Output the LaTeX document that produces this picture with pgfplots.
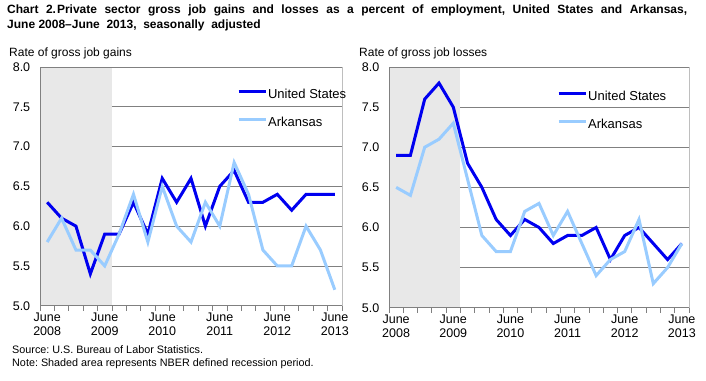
\documentclass[border=0pt]{standalone}
\usepackage{pgfplots}
\pgfplotsset{compat=1.18}
\usepackage{fontspec}
\setmainfont{Liberation Sans}
\definecolor{usblue}{RGB}{0,0,240}
\definecolor{arblue}{RGB}{153,204,255}
\definecolor{shade}{RGB}{232,232,232}
\definecolor{gridgray}{RGB}{128,128,128}
\definecolor{framegray}{RGB}{190,190,190}

\pgfplotsset{
  panel/.style={
    scale only axis,
    xmin=-0.5, xmax=20.5, ymin=5, ymax=8,
    ytick={5,5.5,6,6.5,7,7.5,8},
    yticklabel style={/pgf/number format/fixed,/pgf/number format/fixed zerofill,/pgf/number format/precision=1,/pgf/number format/assume math mode=true,
      font=\fontsize{12.5}{14}\selectfont, xshift=-2pt},
    ytick style={draw=none},
    xtick={0,4,8,12,16,20},
    xticklabels={June\\2008,June\\2009,June\\2010,June\\2011,June\\2012,June\\2013},
    xticklabel style={align=center, font=\fontsize{12.5}{14.5}\selectfont, yshift=1pt},
    major x tick style={draw=none},
    minor xtick={-0.5,0.5,...,20.5},
    minor tick length=5pt,
    minor x tick style={gridgray, line width=0.8pt},
    tick align=outside,
    tick pos=left,
    axis line style={draw=framegray, line width=0.8pt},
    legend cell align=left,
    legend style={draw=none, fill=none, inner sep=0pt, row sep=14pt,
      font=\fontsize{13}{15}\selectfont,
      nodes={inner sep=1pt, text height=9.5pt, text depth=2.5pt}},
    legend image code/.code={\draw[#1] (0pt,4pt) -- (27pt,4pt);},
  }
}

\begin{document}
\frenchspacing
\begin{tikzpicture}
\path[use as bounding box] (0pt,0pt) rectangle (706pt,-380pt);

\node[anchor=base west, inner sep=0pt, font=\fontsize{12}{14}\selectfont\bfseries] at (7pt,-13.3pt)
  {\makebox[680pt][s]{Chart 2.\hspace{1pt}Private sector gross job gains and losses as a percent of employment, United States and Arkansas,}};
\node[anchor=base west, inner sep=0pt, font=\fontsize{12}{14}\selectfont\bfseries] at (7pt,-28.2pt)
  {June 2008--June\ \ 2013,\ \ seasonally\ \ adjusted};

\node[anchor=base west, inner sep=0pt, font=\fontsize{12}{14}\selectfont] at (9pt,-56pt) {Rate of gross job gains};
\node[anchor=base west, inner sep=0pt, font=\fontsize{12}{14}\selectfont] at (359pt,-56pt) {Rate of gross job losses};

\node[anchor=base west, inner sep=0pt, font=\fontsize{10.8}{12}\selectfont] at (12pt,-353pt) {Source: U.S. Bureau of Labor Statistics.};
\node[anchor=base west, inner sep=0pt, font=\fontsize{10.8}{12}\selectfont] at (12pt,-366pt) {Note: Shaded area represents NBER defined recession period.};

% ---------------- Left panel: gains
\begin{axis}[panel, at={(40pt,-67pt)}, anchor=north west, width=302pt, height=238.7pt,
  legend style={at={(0.652,0.912)}, anchor=north west}]
\addplot[fill=shade, draw=none, forget plot] coordinates {(-0.5,5) (4.5,5) (4.5,8) (-0.5,8)} -- cycle;
\pgfplotsinvokeforeach{5.5,6,6.5,7,7.5}{
  \draw[gridgray, line width=0.8pt] (axis cs:4.5,#1) -- (axis cs:20.5,#1);
}
\draw[gridgray, line width=0.8pt] (axis cs:-0.5,8) -- (axis cs:20.5,8);
\addplot[usblue, line width=3pt] coordinates {
(0,6.3)(1,6.1)(2,6.0)(3,5.4)(4,5.9)(5,5.9)(6,6.3)(7,5.9)(8,6.6)(9,6.3)(10,6.6)
(11,6.0)(12,6.5)(13,6.7)(14,6.3)(15,6.3)(16,6.4)(17,6.2)(18,6.4)(19,6.4)(20,6.4)};
\addlegendentry{United States}
\addplot[arblue, line width=3pt] coordinates {
(0,5.8)(1,6.1)(2,5.7)(3,5.7)(4,5.5)(5,5.9)(6,6.4)(7,5.8)(8,6.5)(9,6.0)(10,5.8)
(11,6.3)(12,6.0)(13,6.8)(14,6.4)(15,5.7)(16,5.5)(17,5.5)(18,6.0)(19,5.7)(20,5.2)};
\addlegendentry{Arkansas}
\draw[gridgray, line width=0.8pt] (rel axis cs:0,1) -- (rel axis cs:0,0) -- (rel axis cs:1,0);
\end{axis}

% ---------------- Right panel: losses
\begin{axis}[panel, at={(389pt,-67pt)}, anchor=north west, width=300pt, height=240.7pt,
  legend style={at={(0.56,0.905)}, anchor=north west}]
\addplot[fill=shade, draw=none, forget plot] coordinates {(-0.5,5) (4.5,5) (4.5,8) (-0.5,8)} -- cycle;
\pgfplotsinvokeforeach{5.5,6,6.5,7,7.5}{
  \draw[gridgray, line width=0.8pt] (axis cs:4.5,#1) -- (axis cs:20.5,#1);
}
\draw[gridgray, line width=0.8pt] (axis cs:-0.5,8) -- (axis cs:20.5,8);
\addplot[usblue, line width=3pt] coordinates {
(0,6.9)(1,6.9)(2,7.6)(3,7.8)(4,7.5)(5,6.8)(6,6.5)(7,6.1)(8,5.9)(9,6.1)(10,6.0)
(11,5.8)(12,5.9)(13,5.9)(14,6.0)(15,5.6)(16,5.9)(17,6.0)(18,5.8)(19,5.6)(20,5.8)};
\addlegendentry{United States}
\addplot[arblue, line width=3pt] coordinates {
(0,6.5)(1,6.4)(2,7.0)(3,7.1)(4,7.3)(5,6.6)(6,5.9)(7,5.7)(8,5.7)(9,6.2)(10,6.3)
(11,5.9)(12,6.2)(13,5.8)(14,5.4)(15,5.6)(16,5.7)(17,6.1)(18,5.3)(19,5.5)(20,5.8)};
\addlegendentry{Arkansas}
\draw[gridgray, line width=0.8pt] (rel axis cs:0,1) -- (rel axis cs:0,0) -- (rel axis cs:1,0);
\end{axis}
\end{tikzpicture}
\end{document}
